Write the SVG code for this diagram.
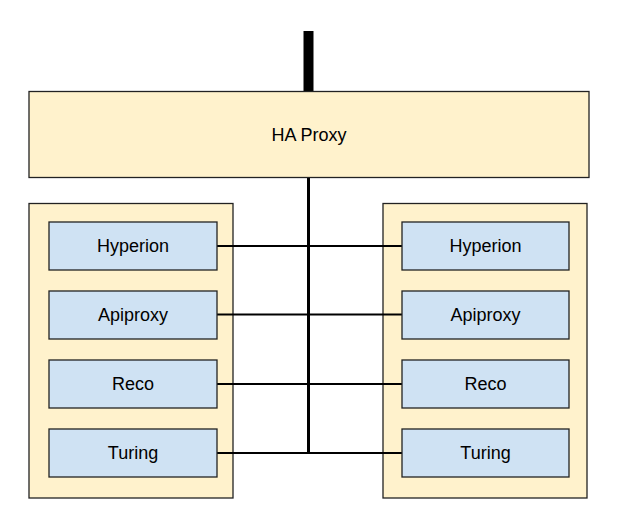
<svg xmlns="http://www.w3.org/2000/svg" width="627" height="526" viewBox="0 0 627 526">
<style>
.outer{fill:#fff2cc;stroke:#222;stroke-width:1.3}
.svc{fill:#cfe2f3;stroke:#222;stroke-width:1.3}
.lbl{font-family:"Liberation Sans",Arial,sans-serif;font-size:18px;fill:#000;text-anchor:middle;dominant-baseline:central}
.ln{stroke:#000;fill:none}
</style>
<rect width="627" height="526" fill="#fff"/>
<g id="left-server">
<rect class="outer" x="29" y="203.5" width="204" height="294.5"/>
</g>
<g id="right-server">
<rect class="outer" x="383" y="203.5" width="204" height="294.5"/>
</g>
<g id="connectors">
<line class="ln" x1="308.5" y1="31" x2="308.5" y2="92" stroke-width="10"/>
<line class="ln" x1="308.5" y1="177" x2="308.5" y2="454" stroke-width="3"/>
<line class="ln" x1="217" y1="246" x2="402" y2="246" stroke-width="2"/>
<line class="ln" x1="217" y1="314.5" x2="402" y2="314.5" stroke-width="2"/>
<line class="ln" x1="217" y1="384" x2="402" y2="384" stroke-width="2"/>
<line class="ln" x1="217" y1="453" x2="402" y2="453" stroke-width="2"/>
</g>
<g id="haproxy">
<rect class="outer" x="29" y="91.5" width="560" height="86"/>
<text class="lbl" x="309" y="134.5">HA Proxy</text>
</g>
<g id="left-hyperion"><rect class="svc" x="49" y="222" width="168" height="48"/><text class="lbl" x="133" y="246">Hyperion</text></g>
<g id="left-apiproxy"><rect class="svc" x="49" y="291" width="168" height="48"/><text class="lbl" x="133" y="315">Apiproxy</text></g>
<g id="left-reco"><rect class="svc" x="49" y="360" width="168" height="48"/><text class="lbl" x="133" y="384">Reco</text></g>
<g id="left-turing"><rect class="svc" x="49" y="429" width="168" height="48"/><text class="lbl" x="133" y="453">Turing</text></g>
<g id="right-hyperion"><rect class="svc" x="402" y="222" width="167" height="48"/><text class="lbl" x="485.5" y="246">Hyperion</text></g>
<g id="right-apiproxy"><rect class="svc" x="402" y="291" width="167" height="48"/><text class="lbl" x="485.5" y="315">Apiproxy</text></g>
<g id="right-reco"><rect class="svc" x="402" y="360" width="167" height="48"/><text class="lbl" x="485.5" y="384">Reco</text></g>
<g id="right-turing"><rect class="svc" x="402" y="429" width="167" height="48"/><text class="lbl" x="485.5" y="453">Turing</text></g>
</svg>
